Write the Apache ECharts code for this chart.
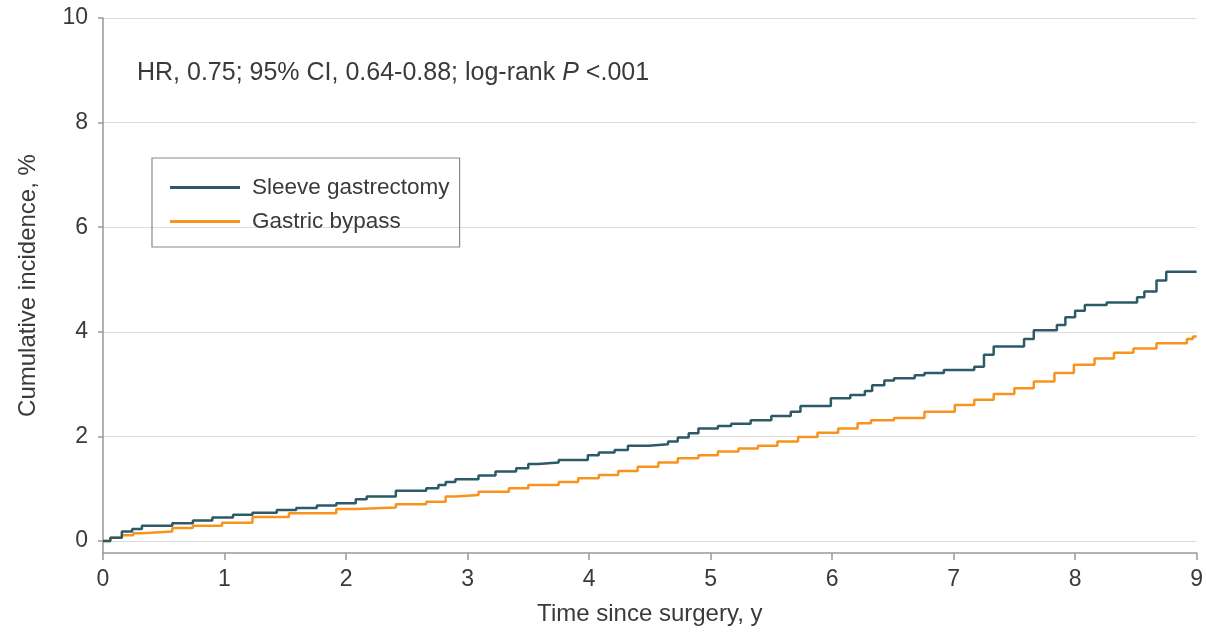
<!DOCTYPE html>
<html>
<head>
<meta charset="utf-8">
<script src="https://cdn.jsdelivr.net/npm/echarts@6/dist/echarts.min.js"></script>
<style>html,body{margin:0;padding:0;background:#fff;}#c{width:1206px;height:633px;}</style>
</head>
<body>
<div id="c"></div>
<script>
const seriesNames = ['Sleeve gastrectomy', 'Gastric bypass'];
const sleeveTime = [0, 0.06, 0.155, 0.24, 0.32, 0.57, 0.74, 0.9, 1.07, 1.23, 1.43, 1.59, 1.76, 1.92, 2.08, 2.17, 2.41, 2.66, 2.76, 2.82, 2.9, 3.09, 3.23, 3.40, 3.50, 3.58, 3.75, 3.99, 4.08, 4.21, 4.32, 4.49, 4.65, 4.73, 4.82, 4.9, 5.06, 5.17, 5.33, 5.5, 5.66, 5.74, 5.99, 6.15, 6.27, 6.33, 6.43, 6.51, 6.68, 6.76, 6.92, 7.17, 7.25, 7.33, 7.58, 7.66, 7.85, 7.92, 8.0, 8.08, 8.26, 8.51, 8.57, 8.67, 8.75, 9.0];
const sleeveValue = [0, 0.06, 0.18, 0.23, 0.29, 0.34, 0.39, 0.45, 0.50, 0.54, 0.59, 0.63, 0.68, 0.72, 0.80, 0.85, 0.96, 1.01, 1.07, 1.13, 1.18, 1.25, 1.33, 1.39, 1.47, 1.50, 1.55, 1.64, 1.69, 1.74, 1.82, 1.85, 1.90, 1.98, 2.06, 2.15, 2.20, 2.24, 2.31, 2.39, 2.47, 2.58, 2.73, 2.79, 2.87, 2.98, 3.07, 3.11, 3.17, 3.21, 3.27, 3.33, 3.56, 3.72, 3.86, 4.03, 4.13, 4.28, 4.40, 4.51, 4.56, 4.66, 4.77, 4.98, 5.15, 5.15];
const bypassTime = [0, 0.06, 0.155, 0.25, 0.32, 0.57, 0.74, 0.98, 1.23, 1.53, 1.92, 2.08, 2.41, 2.66, 2.82, 2.9, 3.09, 3.34, 3.5, 3.75, 3.91, 4.08, 4.24, 4.4, 4.57, 4.73, 4.9, 5.06, 5.23, 5.39, 5.55, 5.72, 5.88, 6.05, 6.21, 6.32, 6.51, 6.76, 7.01, 7.17, 7.33, 7.5, 7.66, 7.83, 7.99, 8.16, 8.32, 8.48, 8.67, 8.92, 8.97, 9.0];
const bypassValue = [0, 0.06, 0.11, 0.15, 0.18, 0.25, 0.29, 0.35, 0.46, 0.53, 0.61, 0.64, 0.70, 0.75, 0.85, 0.88, 0.94, 1.01, 1.07, 1.13, 1.20, 1.26, 1.34, 1.42, 1.50, 1.58, 1.64, 1.71, 1.77, 1.82, 1.90, 1.99, 2.07, 2.15, 2.25, 2.31, 2.35, 2.47, 2.60, 2.70, 2.81, 2.92, 3.05, 3.21, 3.37, 3.49, 3.60, 3.68, 3.78, 3.86, 3.91, 3.91];
const yTicks = [0, 2, 4, 6, 8, 10];
const xTicks = [0, 1, 2, 3, 4, 5, 6, 7, 8, 9];
const annotation = ['HR, 0.75; 95% CI, 0.64-0.88; log-rank ', 'P', ' <.001'];

const FONT = '"Liberation Sans", Arial, sans-serif';
const TXT = '#3a3a3a';
const zip = (a, b) => a.map((t, i) => [t, b[i]]);

const chart = echarts.init(document.getElementById('c'), null, {renderer: 'canvas'});
chart.setOption({
  animation: false,
  backgroundColor: '#fff',
  textStyle: {fontFamily: FONT, color: TXT},
  title: {
    left: 132, top: 56, padding: 5,
    text: '{a|' + annotation[0] + '}{b|' + annotation[1] + '}{a|' + annotation[2] + '}',
    textStyle: {
      fontWeight: 'normal',
      rich: {
        a: {fontFamily: FONT, fontSize: 25, fontWeight: 'normal', color: TXT},
        b: {fontFamily: FONT, fontSize: 25, fontWeight: 'normal', color: TXT, fontStyle: 'italic'}
      }
    }
  },
  legend: {
    orient: 'vertical',
    left: 152, top: 158,
    padding: [18, 10, 14, 18],
    itemGap: 11,
    itemWidth: 70, itemHeight: 3,
    icon: 'rect',
    borderColor: '#8a8a8a', borderWidth: 1.2,
    textStyle: {fontFamily: FONT, fontSize: 22.5, lineHeight: 22, color: TXT, padding: [0, 0, 0, 7]},
    data: seriesNames
  },
  grid: {left: 103, right: 6, top: 18, bottom: 80, containLabel: false},
  xAxis: {
    type: 'value', min: 0, max: 9, interval: 1,
    name: 'Time since surgery, y', nameLocation: 'middle', nameGap: 49,
    nameTextStyle: {fontFamily: FONT, fontSize: 24, color: TXT},
    axisLine: {onZero: false, lineStyle: {color: '#999', width: 1.5}},
    axisTick: {length: 7, lineStyle: {color: '#999', width: 1.5}},
    axisLabel: {margin: 15, fontFamily: FONT, fontSize: 23, color: TXT, formatter: v => xTicks.includes(v) ? String(v) : ''},
    splitLine: {show: false}
  },
  yAxis: {
    type: 'value', min: -0.23, max: 10,
    name: 'Cumulative incidence, %', nameLocation: 'middle', nameGap: 63, nameRotate: 90,
    nameTextStyle: {fontFamily: FONT, fontSize: 24, color: TXT},
    axisLine: {show: true, onZero: false, lineStyle: {color: '#999', width: 1.5}},
    axisTick: {show: true, length: 5, customValues: yTicks, lineStyle: {color: '#999', width: 1.5}},
    axisLabel: {margin: 15, fontFamily: FONT, fontSize: 23, color: TXT, customValues: yTicks},
    splitLine: {show: true, lineStyle: {color: '#dcdcdc', width: 1.2}}
  },
  series: [
    {
      name: seriesNames[1], type: 'line', step: 'end', symbol: 'none',
      color: '#f7941d', lineStyle: {width: 2.5, color: '#f7941d'},
      data: zip(bypassTime, bypassValue), z: 2
    },
    {
      name: seriesNames[0], type: 'line', step: 'end', symbol: 'none',
      color: '#2d5a68', lineStyle: {width: 2.5, color: '#2d5a68'},
      data: zip(sleeveTime, sleeveValue), z: 3
    }
  ]
});
</script>
</body>
</html>
